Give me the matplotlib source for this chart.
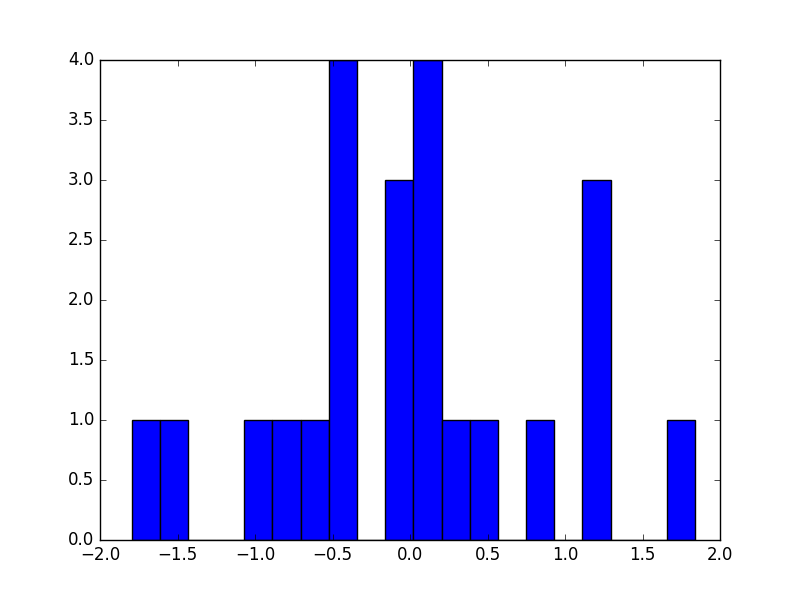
import matplotlib
matplotlib.use("Agg")
import matplotlib.pyplot as plt
import numpy as np

# histogram: 20 bins between data min and max
data_min = -1.796
data_max = 1.839
counts = [1, 1, 0, 0, 1, 1, 1, 4, 0, 3, 4, 1, 1, 0, 1, 0, 3, 0, 0, 1]

edges = np.linspace(data_min, data_max, len(counts) + 1)
centers = (edges[:-1] + edges[1:]) / 2

plt.style.use("classic")
fig = plt.figure(figsize=(8, 6), dpi=100)
ax = fig.add_subplot(111)
ax.hist(centers, bins=edges, weights=counts, color="blue", edgecolor="black")
ax.set_xlim(-2, 2)
ax.set_ylim(0, 4)
fig.savefig("out.png", dpi=100)
